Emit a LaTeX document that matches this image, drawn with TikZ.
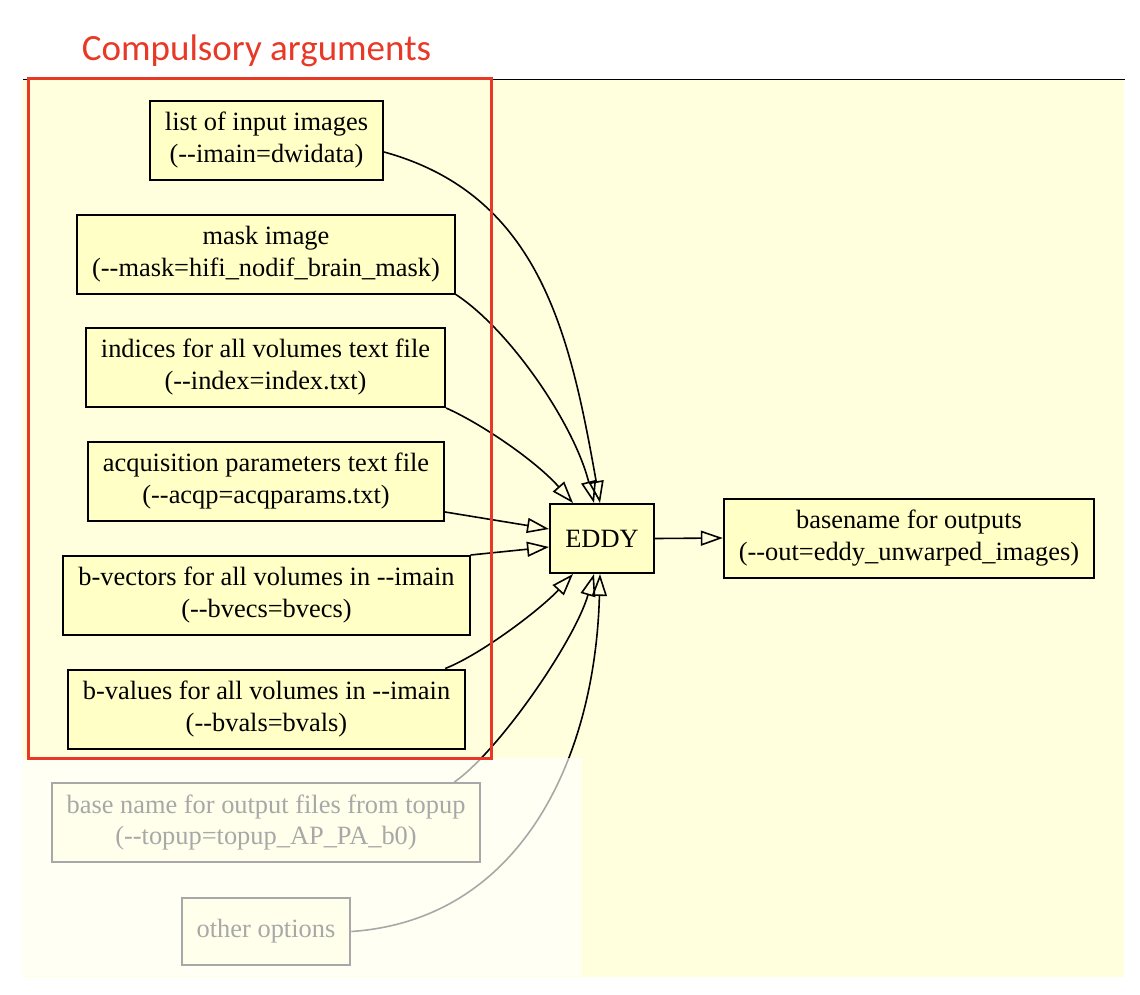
\documentclass[tikz,border=0pt]{standalone}
\usepackage{fontspec}
\usetikzlibrary{arrows.meta}
\newfontfamily\nodefont{Liberation Serif}
\newfontfamily\titlefont{Carlito}
\definecolor{bgyellow}{RGB}{255,255,221}
\definecolor{boxfill}{RGB}{255,255,198}
\definecolor{titlered}{RGB}{232,56,38}
\tikzset{
  argbox/.style={draw, line width=2pt, fill=boxfill, align=center, inner xsep=15pt,
    minimum height=79pt, font={\nodefont\fontsize{26.4}{32}\selectfont}},
  flow/.style={line width=1.6pt, -{Triangle[open, length=22pt, width=15pt]}}
}
\begin{document}
\begin{tikzpicture}[x=1pt, y=-1pt]

\useasboundingbox (0,0) rectangle (1140,994);
\fill [bgyellow] (22,79) rectangle (1124,977);
\draw [line width=1pt] (23,79) -- (1125,79);

\node [argbox] (list) at (266.5,140.5) {list of input images\\(--imain=dwidata)};
\node [argbox] (mask) at (266,254) {mask image\\(--mask=hifi\_nodif\_brain\_mask)};
\node [argbox] (index) at (265.5,367.5) {indices for all volumes text file\\(--index=index.txt)};
\node [argbox] (acqp) at (266,481) {acquisition parameters text file\\(--acqp=acqparams.txt)};
\node [argbox] (bvecs) at (266.5,595.5) {b-vectors for all volumes in --imain\\(--bvecs=bvecs)};
\node [argbox] (bvals) at (266.5,709) {b-values for all volumes in --imain\\(--bvals=bvals)};
\node [argbox] (topup) at (266,822.5) {base name for output files from topup\\(--topup=topup\_AP\_PA\_b0)};
\node [argbox, minimum height=67pt] (other) at (266,931.5) {other options};
\node [argbox, minimum height=69pt, minimum width=104pt, inner xsep=0pt] (eddy) at (602,538.5) {EDDY};
\node [argbox] (out) at (909,538) {basename for outputs\\(--out=eddy\_unwarped\_images)};

\draw [flow] ([yshift=-11.5pt]list.east) .. controls (540,195) and (570,334) .. ([xshift=-2pt]eddy.north);
\draw [flow] (mask.south east) .. controls (510,330) and (574,424) .. ([xshift=-8pt]eddy.north);
\draw [flow] (index.south east) .. controls (480,423) and (535,460) .. ([xshift=-29pt]eddy.north);
\draw [flow] ([yshift=-31pt]acqp.east) -- ([yshift=9.5pt]eddy.west);
\draw [flow] (bvecs.north east) -- ([yshift=-8.5pt]eddy.west);
\draw [flow] ([xshift=-21pt]bvals.north east) .. controls (480,655) and (540,610) .. ([xshift=-29pt]eddy.south);
\draw [flow] ([xshift=-27pt]topup.north east) .. controls (500,750) and (575,640) .. ([xshift=-8pt]eddy.south);
\draw [flow] (other.east) .. controls (520,920) and (595,760) .. ([xshift=-2pt]eddy.south);
\draw [flow] (eddy.east) -- (out.west);

\fill [white, opacity=0.66] (20,758) rectangle (582,976);
\draw [titlered, line width=3pt] (28,78) rectangle (491,758);
\node [anchor=base, text=titlered, font={\titlefont\fontsize{37}{44}\selectfont}] (title) at (256.5,60) {Compulsory arguments};

\end{tikzpicture}
\end{document}
